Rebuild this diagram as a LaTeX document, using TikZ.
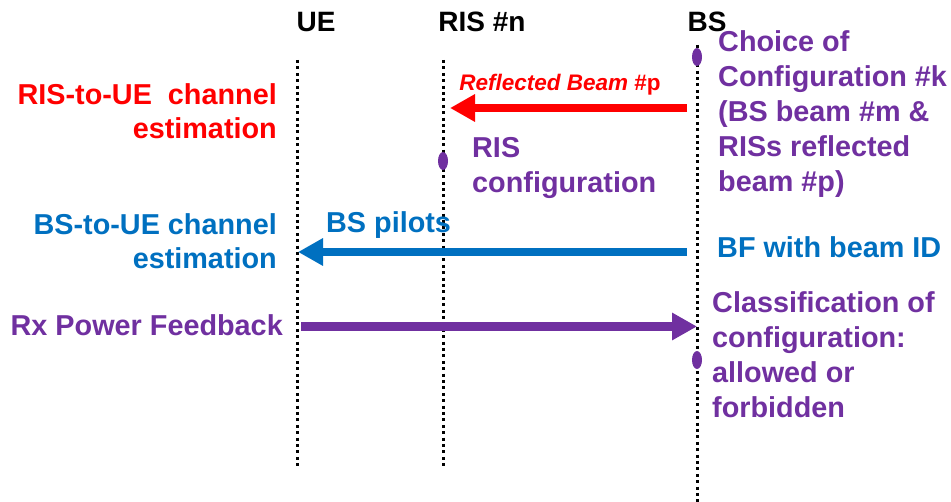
\documentclass[tikz,border=0pt]{standalone}
\usepackage{fontspec}
\setmainfont{Liberation Sans}
\usetikzlibrary{arrows.meta,shapes.geometric}
\definecolor{myred}{HTML}{FF0000}
\definecolor{myblue}{HTML}{0070C0}
\definecolor{mypurple}{HTML}{7030A0}
\begin{document}
\begin{tikzpicture}[x=1pt,y=-1pt,
  lbl/.style={inner sep=0pt, font=\fontsize{28.8}{35}\selectfont\bfseries},
  lbll/.style={inner sep=0pt, font=\fontsize{28.8}{34}\selectfont\bfseries},
  hdr/.style={inner sep=0pt, font=\fontsize{28}{34}\selectfont\bfseries, anchor=center},
  life/.style={line width=3pt, dash pattern=on 3pt off 3.4pt, black},
  evt/.style={ellipse, fill=mypurple, minimum width=10pt, minimum height=18pt, inner sep=0pt},
  msg/.style={line width=8.5pt, -{Triangle[length=25pt,width=26pt]}},
]
\useasboundingbox (0,0) rectangle (951,502);
% headers
\node[hdr] (ue) at (316,22) {UE};
\node[hdr] (ris) at (482,22) {RIS \#n};
\node[hdr] (bs) at (707,22) {BS};
% lifelines
\coordinate (ueTop) at (297,60);
\coordinate (ueBot) at (297,468);
\coordinate (risTop) at (443,60);
\coordinate (risBot) at (443,468);
\coordinate (bsTop) at (697,45);
\coordinate (bsBot) at (697,502);
\draw[life] (ueTop) -- (ueBot);
\draw[life] (risTop) -- (risBot);
\draw[life] (bsTop) -- (bsBot);
% events
\node[evt] (e1) at (697,57) {};
\node[evt] (e2) at (443,161) {};
\node[evt] (e3) at (697,360) {};
% arrows
\coordinate (r1) at (687,108);
\coordinate (r2) at (450,108);
\draw[msg, myred] (r1) -- (r2);
\coordinate (b1) at (687,252);
\coordinate (b2) at (298,252);
\draw[msg, myblue] (b1) -- (b2);
\coordinate (p1) at (301,326.5);
\coordinate (p2) at (697,326.5);
\draw[msg, mypurple] (p1) -- (p2);
% labels
\node[inner sep=0pt, font=\fontsize{22.5}{26}\selectfont\bfseries, text=myred, anchor=base] (refl) at (560,91) {\textit{Reflected Beam} \#p};
\node[lbll, text=myred, anchor=north east, align=right] (ruce) at (277,83) {RIS-to-UE\ \ channel\\estimation};
\node[lbl, text=mypurple, anchor=north west, align=left] (riscfg) at (472,137) {RIS\\configuration};
\node[lbl, text=mypurple, anchor=north west, align=left] (choice) at (718,30) {Choice of\\Configuration \#k\\(BS beam \#m \&\\RISs reflected\\beam \#p)};
\node[lbl, text=myblue, anchor=north west] (pilots) at (326,211) {BS pilots};
\node[lbll, text=myblue, anchor=north east, align=right] (buce) at (277,213) {BS-to-UE channel\\estimation};
\node[lbl, text=myblue, anchor=north west] (bf) at (717,236) {BF with beam ID};
\node[lbl, text=mypurple, anchor=north east] (rx) at (283,314) {Rx Power Feedback};
\node[lbl, text=mypurple, anchor=north west, align=left] (cls) at (712,291) {Classification of\\configuration:\\allowed or\\forbidden};
\end{tikzpicture}
\end{document}
